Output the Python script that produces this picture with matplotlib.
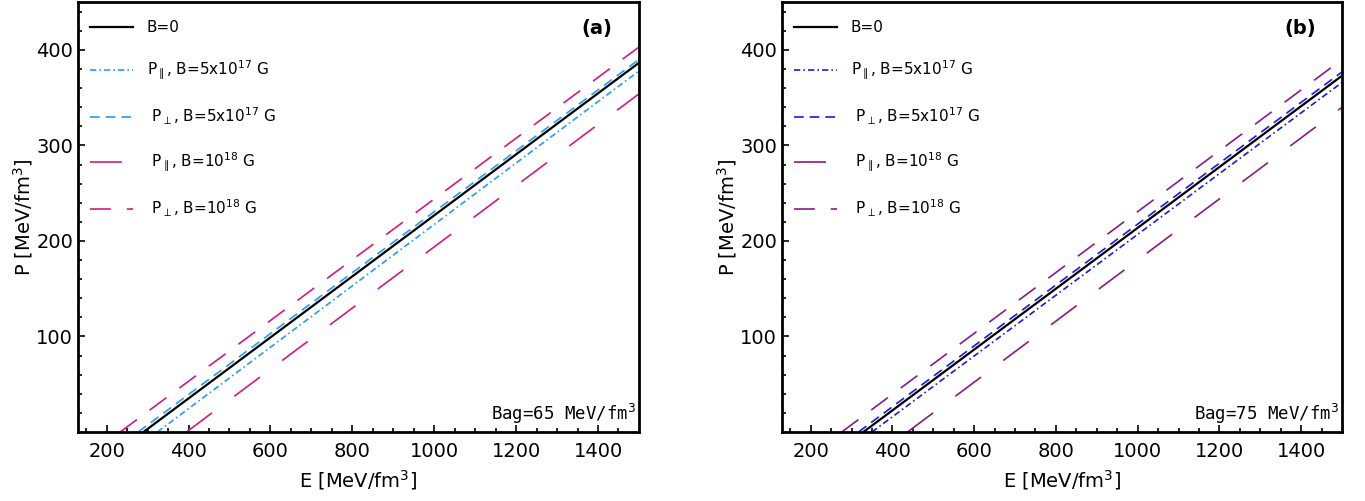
import numpy as np
import matplotlib.pyplot as plt

plt.rcParams['font.family'] = ['DejaVu Sans']
plt.rcParams['lines.scale_dashes'] = False

# energy density range of each curve (MeV/fm^3) and the pressure at its ends
# panel (a): Bag = 65 MeV/fm^3
E_a = {
    'B0':       [290, 1500],
    'par_5e17': [324, 1500],
    'perp_5e17': [277, 1500],
    'par_1e18': [395, 1500],
    'perp_1e18': [233, 1500],
}
P_a = {
    'B0':       [0, 386.5],
    'par_5e17': [0, 378],
    'perp_5e17': [0, 390],
    'par_1e18': [0, 354],
    'perp_1e18': [0, 403],
}
# panel (b): Bag = 75 MeV/fm^3
E_b = {
    'B0':       [329, 1500],
    'par_5e17': [350, 1500],
    'perp_5e17': [317, 1500],
    'par_1e18': [437, 1500],
    'perp_1e18': [276, 1500],
}
P_b = {
    'B0':       [0, 373],
    'par_5e17': [0, 366],
    'perp_5e17': [0, 377],
    'par_1e18': [0, 340],
    'perp_1e18': [0, 390],
}

labels = {
    'B0': 'B=0',
    'par_5e17': r'P$_{\parallel}$, B=5x10$^{17}$ G',
    'perp_5e17': r' P$_{\perp}$, B=5x10$^{17}$ G',
    'par_1e18': r' P$_{\parallel}$, B=10$^{18}$ G',
    'perp_1e18': r' P$_{\perp}$, B=10$^{18}$ G',
}
order = ['B0', 'par_5e17', 'perp_5e17', 'par_1e18', 'perp_1e18']

dashes = {
    'B0': None,
    'par_5e17': (4.5, 2.2, 1.2, 2.2),
    'perp_5e17': (7, 4.3),
    'par_1e18': (23, 20),
    'perp_1e18': (15, 11.5),
}


def draw_panel(ax, E, P, blue, pink, tag, bag):
    colors = {'B0': 'black', 'par_5e17': blue, 'perp_5e17': blue,
              'par_1e18': pink, 'perp_1e18': pink}
    for k in order:
        lw = 1.6 if k == 'B0' else 1.2
        line, = ax.plot(E[k], P[k], color=colors[k], lw=lw, label=labels[k])
        if dashes[k] is not None:
            line.set_dashes(dashes[k])
    ax.set_xlim(130, 1500)
    ax.set_ylim(0, 450)
    ax.set_xticks([200, 400, 600, 800, 1000, 1200, 1400])
    ax.set_xticks(np.arange(150, 1500, 50), minor=True)
    ax.set_yticks([100, 200, 300, 400])
    ax.set_yticks(np.arange(20, 450, 20), minor=True)
    ax.tick_params(which='both', direction='in', top=False, right=False,
                   labelsize=14, width=1.2)
    ax.tick_params(axis='x', which='both', pad=7.5)
    ax.tick_params(which='major', length=5)
    ax.tick_params(which='minor', length=3)
    for s in ax.spines.values():
        s.set_linewidth(2)
    ax.set_xlabel(r'E [MeV/fm$^3$]', fontsize=14, labelpad=5)
    ax.set_ylabel(r'P [MeV/fm$^3$]', fontsize=14, labelpad=1)
    ax.legend(loc='upper left', bbox_to_anchor=(0.0107, 0.972), borderaxespad=0,
              frameon=False, fontsize=11, handlelength=2.8,
              labelspacing=1.55, handletextpad=0.9)
    ax.text(0.925, 0.96, tag, transform=ax.transAxes, fontsize=14,
            fontweight='bold', ha='center', va='top')
    ax.text(0.995, 0.015, 'Bag=%d MeV/fm$^3$' % bag, transform=ax.transAxes,
            fontsize=12.5, family='DejaVu Sans Mono', ha='right', va='bottom')


fig = plt.figure(figsize=(13.65, 5.01), dpi=100)
ax1 = fig.add_axes([0.0571, 0.1377, 0.4110, 0.858])
ax2 = fig.add_axes([0.5729, 0.1377, 0.4103, 0.858])

draw_panel(ax1, E_a, P_a, '#2b9af0', '#d21a82', '(a)', 65)
draw_panel(ax2, E_b, P_b, '#1a1ae6', '#8a1a8a', '(b)', 75)

fig.savefig('out.png', dpi=100)
